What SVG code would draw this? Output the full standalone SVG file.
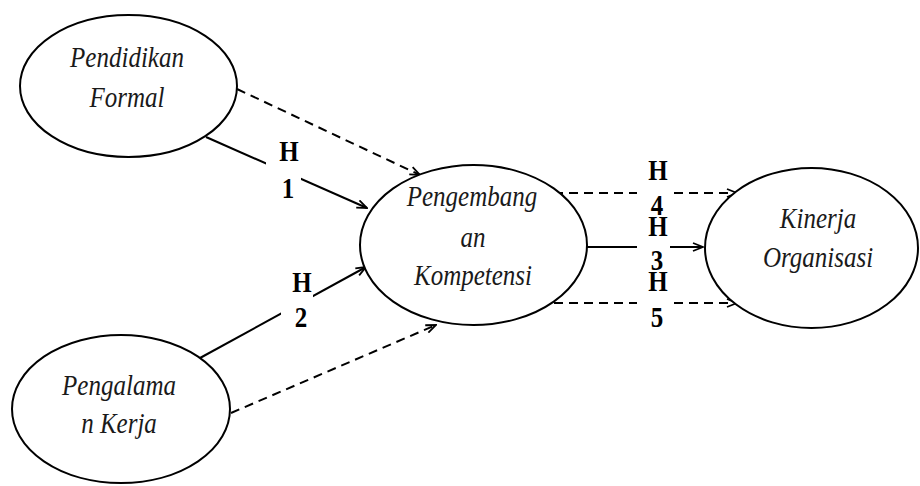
<svg xmlns="http://www.w3.org/2000/svg" width="920" height="486" viewBox="0 0 920 486">
  <style>
    .node { fill: #ffffff; stroke: #000000; stroke-width: 2; }
    .name { font-family: "Liberation Serif", "Times New Roman", serif; font-style: italic; font-size: 25px; fill: #1a1a1a; text-anchor: middle; }
    .hyp { font-family: "Liberation Serif", "Times New Roman", serif; font-weight: bold; font-size: 25px; fill: #000000; text-anchor: middle; }
    .link { stroke: #000000; stroke-width: 2; fill: none; marker-end: url(#arrow); }
    .dash { stroke-dasharray: 9 6; }
    .tag { fill: #ffffff; }
  </style>
  <defs>
    <marker id="arrow" viewBox="0 0 12 10" refX="11" refY="5" markerWidth="12" markerHeight="10" markerUnits="userSpaceOnUse" orient="auto">
      <path d="M1,1 L11,5 L1,9" fill="none" stroke="#000000" stroke-width="1.8"/>
    </marker>
  </defs>
  <rect width="920" height="486" fill="#ffffff"/>

  <!-- connectors -->
  <g id="connectors">
    <line class="link" x1="206" y1="137" x2="367" y2="208"/>
    <line class="link dash" x1="237" y1="89" x2="420" y2="175"/>
    <line class="link" x1="200" y1="358" x2="366" y2="267"/>
    <line class="link dash" x1="231" y1="413" x2="436" y2="325"/>
    <line class="link dash" x1="554" y1="193" x2="737" y2="193"/>
    <line class="link" x1="587" y1="247" x2="703" y2="247"/>
    <line class="link dash" x1="554" y1="303" x2="737" y2="303"/>

    <!-- hypothesis labels -->
    <rect class="tag" x="266" y="143" width="35" height="54"/>
    <text class="hyp" transform="translate(289,161) scale(1,1.2)">H</text>
    <text class="hyp" transform="translate(288,198) scale(1,1.2)">1</text>

    <rect class="tag" x="281" y="274" width="32" height="50"/>
    <text class="hyp" transform="translate(302,292) scale(1,1.2)">H</text>
    <text class="hyp" transform="translate(301,327) scale(1,1.2)">2</text>

    <rect class="tag" x="637" y="163" width="33" height="168"/>
    <text class="hyp" transform="translate(658,180) scale(1,1.2)">H</text>
    <text class="hyp" transform="translate(657,215) scale(1,1.2)">4</text>
    <text class="hyp" transform="translate(658,236) scale(1,1.2)">H</text>
    <text class="hyp" transform="translate(657,270) scale(1,1.2)">3</text>
    <text class="hyp" transform="translate(658,291) scale(1,1.2)">H</text>
    <text class="hyp" transform="translate(657,327) scale(1,1.2)">5</text>
  </g>

  <g id="pendidikan-formal">
    <ellipse class="node" cx="128.5" cy="86" rx="108.5" ry="71"/>
    <text class="name" transform="translate(127,67) scale(1,1.15)">Pendidikan</text>
    <text class="name" transform="translate(127,107) scale(1,1.15)">Formal</text>
  </g>

  <g id="pengalaman-kerja">
    <ellipse class="node" cx="121" cy="409" rx="109" ry="74"/>
    <text class="name" transform="translate(119,395) scale(1,1.15)">Pengalama</text>
    <text class="name" transform="translate(119,433) scale(1,1.15)">n Kerja</text>
  </g>

  <g id="pengembangan-kompetensi">
    <ellipse class="node" cx="473.5" cy="245" rx="113.5" ry="80"/>
    <text class="name" transform="translate(472,206) scale(1,1.15)">Pengembang</text>
    <text class="name" transform="translate(473,247) scale(1,1.15)">an</text>
    <text class="name" transform="translate(473,285) scale(1,1.15)">Kompetensi</text>
  </g>

  <g id="kinerja-organisasi">
    <ellipse class="node" cx="811.5" cy="248" rx="106.5" ry="80"/>
    <text class="name" transform="translate(818,228) scale(1,1.15)">Kinerja</text>
    <text class="name" transform="translate(818,267) scale(1,1.15)">Organisasi</text>
  </g>
</svg>
